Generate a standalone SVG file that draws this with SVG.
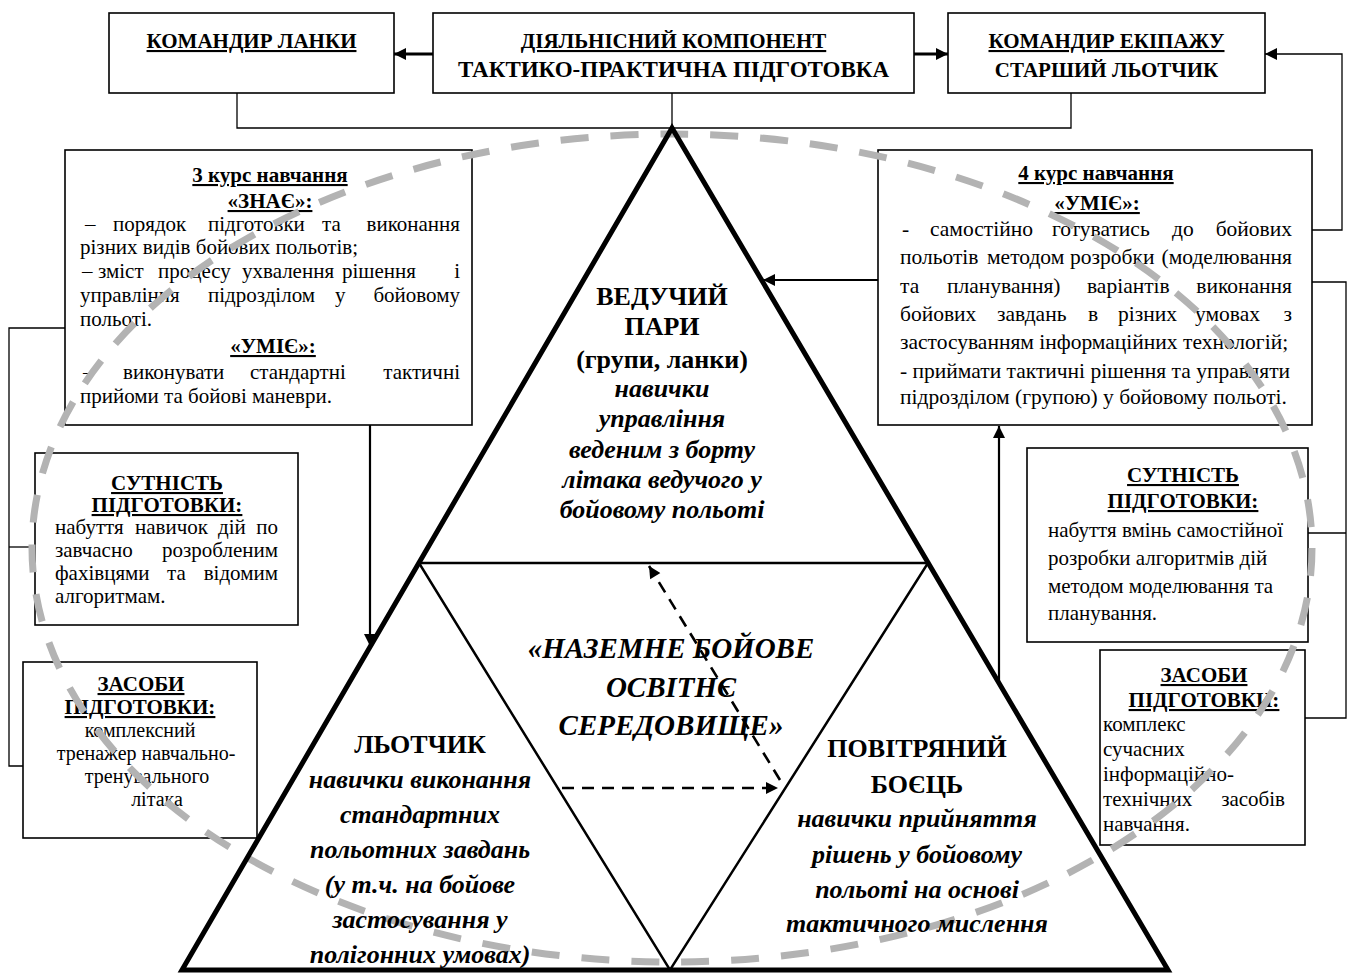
<svg xmlns="http://www.w3.org/2000/svg" width="1349" height="974" viewBox="0 0 1349 974">
<defs>
<style>
.t{font-family:"Liberation Serif","Times New Roman",serif;fill:#000}
.h{font-size:21px;font-weight:bold}
.u{text-decoration:underline}
.m{text-anchor:middle}
.e{text-anchor:end}
.body{font-size:21px}
.b4{font-size:21.5px}
.b20{font-size:20px}
.box{fill:#fff;stroke:#000;stroke-width:1.6}
.link{fill:none;stroke:#000;stroke-width:1.3}
.arr{fill:none;stroke:#000;stroke-width:2.2;marker-end:url(#head)}
.arr3{fill:none;stroke:#000;stroke-width:3;marker-end:url(#head)}
.tri{font-size:26px;font-weight:bold}
.it{font-style:italic}
.env{font-size:29px;font-weight:bold;font-style:italic}
.dash{fill:none;stroke:#000;stroke-width:2.6;stroke-dasharray:12 8;marker-end:url(#head)}
</style>
<marker id="head" viewBox="0 0 10 10" refX="10" refY="5" markerWidth="16" markerHeight="12" markerUnits="userSpaceOnUse" orient="auto"><path d="M0,0L10,5L0,10z" fill="#000"/></marker>
</defs>
<rect width="1349" height="974" fill="#fff"/>

<!-- top row -->
<g id="node-commander-flight">
<rect class="box" x="109" y="13" width="285" height="80"/>
<text class="t h u m" x="251.5" y="48">КОМАНДИР ЛАНКИ</text>
</g>
<g id="node-activity">
<rect class="box" x="433" y="13" width="481" height="80"/>
<text class="t h u m" x="673.5" y="48">ДІЯЛЬНІСНИЙ КОМПОНЕНТ</text>
<text class="t h m" x="673.5" y="77" style="font-size:23px">ТАКТИКО-ПРАКТИЧНА ПІДГОТОВКА</text>
</g>
<g id="node-crew-commander">
<rect class="box" x="948" y="13" width="317" height="80"/>
<text class="t h u m" x="1106.5" y="48">КОМАНДИР ЕКІПАЖУ</text>
<text class="t h m" x="1106.5" y="77">СТАРШИЙ ЛЬОТЧИК</text>
</g>

<!-- 3rd year -->
<g id="node-course3">
<rect class="box" x="65" y="150" width="407" height="275"/>
<text class="t h u m" x="270" y="182">3 курс навчання</text>
<text class="t h u m" x="270" y="208">«ЗНАЄ»:</text>
<text class="t body" y="231"><tspan x="85">–</tspan><tspan x="113">порядок</tspan><tspan x="208">підготовки</tspan><tspan x="322">та</tspan></text>
<text class="t body e" x="460" y="231">виконання</text>
<text class="t body" x="80" y="254">різних видів бойових польотів;</text>
<text class="t body" y="278"><tspan x="82">–</tspan><tspan x="98">зміст</tspan><tspan x="158">процесу</tspan><tspan x="242">ухвалення</tspan><tspan x="342">рішення</tspan></text>
<text class="t body e" x="460" y="278">і</text>
<text class="t body" y="302"><tspan x="80">управління</tspan><tspan x="208">підрозділом</tspan><tspan x="335">у</tspan></text>
<text class="t body e" x="460" y="302">бойовому</text>
<text class="t body" x="80" y="326">польоті.</text>
<text class="t h u m" x="273" y="353">«УМІЄ»:</text>
<text class="t body" y="379"><tspan x="83">–</tspan><tspan x="123">виконувати</tspan><tspan x="250">стандартні</tspan></text>
<text class="t body e" x="460" y="379">тактичні</text>
<text class="t body" x="80" y="403">прийоми та бойові маневри.</text>
</g>

<!-- 4th year -->
<g id="node-course4">
<rect class="box" x="878" y="150" width="434" height="275"/>
<text class="t h u m" x="1096" y="180">4 курс навчання</text>
<text class="t h u m" x="1097" y="210">«УМІЄ»:</text>
<text class="t b4" y="236"><tspan x="902">-</tspan><tspan x="930">самостійно</tspan><tspan x="1052">готуватись</tspan><tspan x="1172">до</tspan></text>
<text class="t b4 e" x="1292" y="236">бойових</text>
<text class="t b4" y="264"><tspan x="900">польотів</tspan><tspan x="987">методом</tspan><tspan x="1070">розробки</tspan></text>
<text class="t b4 e" x="1292" y="264">(моделювання</text>
<text class="t b4" y="293"><tspan x="900">та</tspan><tspan x="947">планування)</tspan><tspan x="1087">варіантів</tspan></text>
<text class="t b4 e" x="1292" y="293">виконання</text>
<text class="t b4" y="321"><tspan x="900">бойових</tspan><tspan x="997">завдань</tspan><tspan x="1088">в</tspan><tspan x="1118">різних</tspan><tspan x="1195">умовах</tspan></text>
<text class="t b4 e" x="1292" y="321">з</text>
<text class="t b4" x="900" y="349">застосуванням інформаційних технологій;</text>
<text class="t b4" x="900" y="378">- приймати тактичні рішення та управляти</text>
<text class="t b4" x="900" y="404">підрозділом (групою) у бойовому польоті.</text>
</g>

<!-- left side boxes -->
<g id="node-essence-left">
<rect class="box" x="35" y="453" width="263" height="172"/>
<text class="t h u m" x="167" y="490">СУТНІСТЬ</text>
<text class="t h u m" x="167" y="512">ПІДГОТОВКИ:</text>
<text class="t body" y="534"><tspan x="55">набуття</tspan><tspan x="135">навичок</tspan><tspan x="218">дій</tspan></text>
<text class="t body e" x="278" y="534">по</text>
<text class="t body" x="55" y="557">завчасно</text>
<text class="t body e" x="278" y="557">розробленим</text>
<text class="t body" y="580"><tspan x="55">фахівцями</tspan><tspan x="167">та</tspan></text>
<text class="t body e" x="278" y="580">відомим</text>
<text class="t body" x="55" y="603">алгоритмам.</text>
</g>
<g id="node-means-left">
<rect class="box" x="23" y="662" width="234" height="176"/>
<text class="t h u m" x="141" y="691">ЗАСОБИ</text>
<text class="t h u m" x="140" y="714">ПІДГОТОВКИ:</text>
<text class="t b20 m" x="140" y="737">комплексний</text>
<text class="t b20 m" x="146" y="760">тренажер навчально-</text>
<text class="t b20 m" x="147" y="783">тренувального</text>
<text class="t b20 m" x="157" y="806">літака</text>
</g>

<!-- right side boxes -->
<g id="node-essence-right">
<rect class="box" x="1027" y="448" width="281" height="194"/>
<text class="t h u m" x="1183" y="482">СУТНІСТЬ</text>
<text class="t h u m" x="1183" y="508">ПІДГОТОВКИ:</text>
<text class="t body" x="1048" y="537">набуття вмінь самостійної</text>
<text class="t body" x="1048" y="565">розробки алгоритмів дій</text>
<text class="t body" x="1048" y="593">методом моделювання та</text>
<text class="t body" x="1048" y="620">планування.</text>
</g>
<g id="node-means-right">
<rect class="box" x="1100" y="650" width="205" height="195"/>
<text class="t h u m" x="1204" y="682">ЗАСОБИ</text>
<text class="t h u m" x="1204" y="707">ПІДГОТОВКИ:</text>
<text class="t body" x="1103" y="731">комплекс</text>
<text class="t body" x="1103" y="756">сучасних</text>
<text class="t body" x="1103" y="781">інформаційно-</text>
<text class="t body" x="1103" y="806">технічних</text>
<text class="t body e" x="1285" y="806">засобів</text>
<text class="t body" x="1103" y="831">навчання.</text>
</g>

<!-- solid connectors -->
<g id="connectors">
<line class="arr3" x1="433" y1="54" x2="394" y2="54"/>
<line class="arr3" x1="914" y1="54" x2="948" y2="54"/>
<polyline class="link" points="237,93 237,128 1071,128 1071,93"/>
<line class="link" x1="672" y1="93" x2="672" y2="128"/>
<polyline class="link" points="1312,230 1342,230 1342,54 1265,54" style="marker-end:url(#head)"/>
<polyline class="link" points="1312,282 1346,282 1346,718 1305,718"/>
<line class="link" x1="1308" y1="533" x2="1346" y2="533"/>
<polyline class="link" points="65,328 9,328 9,766 23,766"/>
<line class="link" x1="9" y1="547" x2="35" y2="547"/>
<line class="arr" x1="878" y1="280" x2="763" y2="280"/>
<line class="arr" x1="999" y1="683" x2="999" y2="426"/>
<line class="arr" x1="370" y1="425" x2="370" y2="646"/>
</g>

<!-- educational environment contour -->
<ellipse id="environment-contour" cx="672" cy="548" rx="640" ry="414" fill="none" stroke="#b3b3b3" stroke-width="7" stroke-dasharray="28 22"/>

<!-- pyramid -->
<g id="node-pyramid">
<polygon points="672,128 182,970 1168,970" fill="none" stroke="#000" stroke-width="5"/>
<polygon points="419,563 928,563 670,970" fill="none" stroke="#000" stroke-width="2.5"/>
</g>
<g id="node-leader">
<text class="t tri m" x="662" y="305">ВЕДУЧИЙ</text>
<text class="t tri m" x="662" y="335">ПАРИ</text>
<text class="t tri m" x="662" y="368">(групи, ланки)</text>
<text class="t tri it m" x="662" y="397">навички</text>
<text class="t tri it m" x="662" y="427">управління</text>
<text class="t tri it m" x="662" y="458">веденим з борту</text>
<text class="t tri it m" x="662" y="488">літака ведучого у</text>
<text class="t tri it m" x="662" y="518">бойовому польоті</text>
</g>
<g id="node-environment">
<text class="t env m" x="671" y="658">«НАЗЕМНЕ БОЙОВЕ</text>
<text class="t env m" x="671" y="697">ОСВІТНЄ</text>
<text class="t env m" x="671" y="735">СЕРЕДОВИЩЕ»</text>
</g>
<g id="node-pilot">
<text class="t tri m" x="420" y="753">ЛЬОТЧИК</text>
<text class="t tri it m" x="420" y="788">навички виконання</text>
<text class="t tri it m" x="420" y="823">стандартних</text>
<text class="t tri it m" x="420" y="858">польотних завдань</text>
<text class="t tri it m" x="420" y="893">(у т.ч. на бойове</text>
<text class="t tri it m" x="420" y="928">застосування у</text>
<text class="t tri it m" x="420" y="963">полігонних умовах)</text>
</g>
<g id="node-fighter">
<text class="t tri m" x="917" y="757">ПОВІТРЯНИЙ</text>
<text class="t tri m" x="917" y="793">БОЄЦЬ</text>
<text class="t tri it m" x="917" y="827">навички прийняття</text>
<text class="t tri it m" x="917" y="863">рішень у бойовому</text>
<text class="t tri it m" x="917" y="898">польоті на основі</text>
<text class="t tri it m" x="917" y="932">тактичного мислення</text>
</g>

<!-- dashed links inside the pyramid -->
<g id="connectors-dashed">
<line class="dash" x1="780" y1="780" x2="649" y2="566"/>
<line class="dash" x1="562" y1="788" x2="778" y2="788"/>
</g>
</svg>
